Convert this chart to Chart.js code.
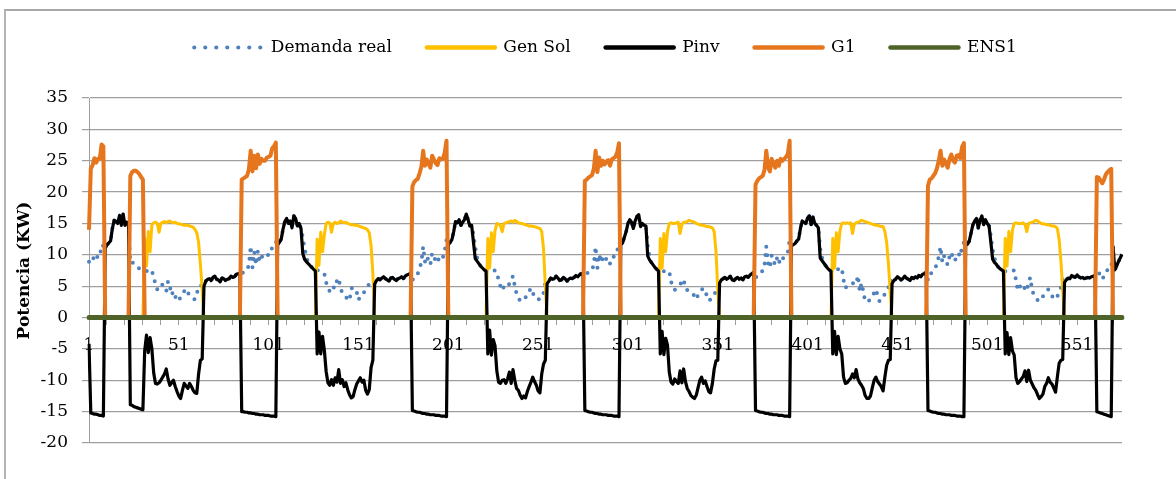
<!DOCTYPE html>
<html>
<head>
<meta charset="utf-8">
<script src="https://cdn.jsdelivr.net/npm/chart.js@4.4.0/dist/chart.umd.min.js"></script>
<style>
html,body{margin:0;padding:0;background:#fff;overflow:hidden}
#marco{position:absolute;left:4px;top:9px;width:1400px;height:700px;border-left:2px solid #b4b4b4;border-top:2px solid #a8a8a8}
#wrap{position:absolute;left:0;top:0;width:1176px;height:479px}
</style>
</head>
<body>
<div id="marco"></div>
<div id="wrap"><canvas id="grafico" width="1176" height="479"></canvas></div>
<script>
// --- datos (576 intervalos de 15 min) ---
const categorias = Array.from({length: 576}, (_, k) => String(k + 1));

const demanda = [
  8.9,8.6,9.1,9.9,9.4,9.8,9.7,11.6,11.4,
  11.0,11.6,11.9,12.2,14.2,15.5,15.3,15.0,16.3,14.7,16.5,14.7,15.2,14.8,
  8.8,8.9,8.5,8.3,8.0,7.8,7.6,7.5,
  7.5,7.4,7.5,7.6,7.6,6.2,5.5,4.5,4.9,5.4,5.2,4.6,4.2,5.8,5.0,3.6,4.2,3.4,2.6,2.8,3.2,3.7,4.2,4.6,4.0,3.5,3.2,3.0,2.9,3.9,4.6,5.2,5.0,
  // dia 1
  5.0,5.8,6.1,6.2,5.9,6.4,6.6,6.1,6.0,5.7,6.3,6.2,5.9,6.1,6.2,6.6,6.4,6.5,6.9,7.0,7.1,
  7.0,7.2,7.3,7.5,8.4,11.4,8.0,10.5,8.4,10.6,9.0,9.8,9.5,9.4,9.9,10.0,10.1,11.3,11.6,12.1,
  11.6,12.0,12.5,14.1,15.3,15.8,15.0,15.4,14.3,16.2,15.8,14.6,15.0,14.2,12.8,11.0,9.8,8.6,8.3,8.0,7.7,7.4,
  7.6,7.4,7.3,7.2,7.0,5.6,4.6,4.2,5.0,4.8,4.7,5.9,6.3,4.6,4.0,3.8,3.3,2.9,2.7,4.6,4.8,4.3,4.1,2.8,3.4,3.6,4.0,4.4,5.0,5.3,5.6,5.8,
  // dia 2
  5.3,5.9,6.2,6.0,6.3,6.5,6.2,6.0,5.8,6.3,6.4,6.1,5.9,6.2,6.3,6.5,6.2,6.6,6.8,6.9,7.1,
  5.9,6.6,6.8,7.0,7.8,8.8,11.3,8.9,9.8,9.1,8.4,10.3,9.7,9.0,8.7,9.8,9.5,9.6,10.6,12.4,
  11.6,12.0,12.4,13.7,15.3,15.1,15.6,14.7,15.2,15.6,16.5,15.6,14.6,14.7,13.2,11.2,9.6,8.6,8.2,7.9,7.6,7.4,
  7.5,7.4,7.4,7.5,7.5,7.3,5.9,5.0,4.3,5.0,5.5,5.4,5.3,6.0,6.6,5.0,3.8,3.2,2.6,2.9,3.0,3.2,3.8,4.2,4.7,4.0,3.2,3.0,2.9,2.9,3.5,3.9,5.5,
  // dia 3
  5.4,5.8,6.3,6.1,6.2,6.6,6.3,5.9,6.0,6.4,6.2,5.8,6.1,6.3,6.2,6.4,6.7,6.5,6.8,7.0,7.1,
  6.8,7.0,7.2,7.4,7.5,8.5,11.3,7.9,10.1,8.8,9.5,8.9,9.4,9.5,8.6,9.6,9.7,9.9,10.6,12.0,
  11.6,11.9,12.8,13.7,15.0,15.6,15.2,14.2,15.4,16.1,16.4,14.5,15.0,14.7,14.6,11.4,9.8,8.8,8.4,8.0,7.7,7.4,
  7.5,7.4,7.4,7.4,7.4,7.4,5.7,5.0,4.4,4.6,5.0,5.3,5.6,6.1,4.6,4.4,4.2,4.0,3.9,3.4,2.9,3.6,4.2,4.4,4.7,4.1,3.5,2.7,2.9,3.2,3.7,4.2,5.0,
  // dia 4
  5.5,6.0,6.2,6.4,6.1,6.3,6.6,6.0,5.9,6.2,6.4,6.1,6.3,6.0,6.5,6.6,6.4,6.8,7.0,7.2,
  6.2,6.8,7.1,7.3,7.4,8.3,11.3,8.7,7.9,9.9,9.0,8.4,9.5,8.6,9.7,9.4,9.6,9.9,10.4,12.4,
  11.4,11.6,11.8,12.2,12.5,14.2,15.4,15.2,15.0,15.9,16.2,14.8,16.0,15.0,14.7,14.3,11.0,9.6,8.7,8.3,7.9,7.6,7.4,
  7.1,7.3,7.5,7.7,7.9,7.9,6.0,4.7,5.0,5.3,5.4,5.5,5.4,5.3,6.7,4.2,5.5,4.2,2.6,2.7,2.6,3.0,3.5,3.9,4.5,3.5,2.6,3.0,3.5,3.7,4.2,4.8,6.0,
  // dia 5
  5.4,5.9,6.1,6.5,6.3,6.0,6.2,6.6,6.3,6.1,5.9,6.4,6.2,6.5,6.3,6.7,6.5,6.9,7.0,7.2,
  6.0,7.0,7.1,7.5,7.8,8.6,9.7,11.3,8.8,9.8,9.0,8.4,9.7,10.4,9.4,9.0,10.1,10.2,9.7,11.4,12.0,
  11.6,11.7,12.2,13.5,14.8,15.4,15.8,14.3,15.5,16.2,14.8,15.6,15.0,14.6,13.0,10.8,9.5,8.5,8.1,7.8,7.6,7.4,
  7.4,7.4,7.5,7.5,7.5,7.5,5.9,4.3,4.8,5.4,5.0,4.6,4.2,5.7,6.4,4.2,3.7,3.2,2.8,2.6,2.9,3.4,3.8,4.2,4.5,3.9,3.4,3.2,2.9,3.4,3.9,4.8,6.1,
  // dia 6
  5.6,6.0,6.3,6.2,6.7,6.5,6.4,6.8,6.5,6.3,6.4,6.2,6.3,6.4,6.3,6.5,6.6,6.7,
  7.4,7.2,6.7,6.1,6.6,7.3,7.6,7.8,7.9,
  11.3,7.6,8.2,8.9,9.5,10.1
];

const genSol = [
  0,0,0,0,0,0,0,0, 0,0,0,0,0,0,0,0, 0,0,0,0,0,0,0,0, 0,0,0,0,0,0,0,
  12.6,8.2,13.7,10.5,14.8,15.1,15.2,15.0,13.6,15.0,15.2,15.3,15.1,15.3,15.4,15.2,15.1,15.2,15.0,14.9,14.9,14.8,14.7,14.7,14.7,14.6,14.5,14.4,14.0,13.5,12.0,8.5,4.5,
  0,0,0,0,0,0,0,0, 0,0,0,0,0,0,0,0, 0,0,0,0,0,0,0,0, 0,0,0,0,0,0,0,0, 0,0,0,0,0,0,0,0, 0,0,0,0,0,0,0,0, 0,0,0,0,0,0,0,0, 0,0,0,0,0,0,0,
  12.5,8.3,13.6,10.5,13.2,15.0,15.2,15.1,13.6,15.0,15.2,15.0,15.1,15.4,15.2,15.1,15.2,15.0,14.9,14.8,14.8,14.7,14.7,14.6,14.5,14.4,14.3,14.2,14.0,13.5,11.5,7.0,
  0,0,0,0,0,0,0,0, 0,0,0,0,0,0,0,0, 0,0,0,0,0,0,0,0, 0,0,0,0,0,0,0,0, 0,0,0,0,0,0,0,0, 0,0,0,0,0,0,0,0, 0,0,0,0,0,0,0,0, 0,0,0,0,0,0,0,
  12.6,7.9,13.5,10.5,13.8,15.0,14.9,14.7,13.7,15.0,15.1,15.2,15.3,15.4,15.2,15.5,15.3,15.1,15.0,15.0,14.9,14.8,14.7,14.6,14.6,14.5,14.5,14.4,14.3,14.2,13.7,11.0,5.0,
  0,0,0,0,0,0,0,0, 0,0,0,0,0,0,0,0, 0,0,0,0,0,0,0,0, 0,0,0,0,0,0,0,0, 0,0,0,0,0,0,0,0, 0,0,0,0,0,0,0,0, 0,0,0,0,0,0,0,0, 0,0,0,0,0,0,0,
  12.6,7.9,13.4,10.5,13.7,15.0,15.1,15.0,15.0,15.1,15.2,13.4,14.8,15.2,15.2,15.3,15.5,15.4,15.3,15.2,15.0,14.9,14.8,14.7,14.7,14.6,14.5,14.5,14.4,14.3,13.7,10.5,4.5,
  0,0,0,0,0,0,0,0, 0,0,0,0,0,0,0,0, 0,0,0,0,0,0,0,0, 0,0,0,0,0,0,0,0, 0,0,0,0,0,0,0,0, 0,0,0,0,0,0,0,0, 0,0,0,0,0,0,0,0, 0,0,0,0,0,0,0,
  12.6,7.9,13.5,10.5,13.8,15.0,15.1,15.0,15.1,15.0,15.1,13.4,14.9,15.1,15.2,15.3,15.5,15.4,15.3,15.2,15.1,15.0,14.9,14.8,14.7,14.7,14.6,14.5,14.5,13.7,12.0,8.5,4.0,
  0,0,0,0,0,0,0,0, 0,0,0,0,0,0,0,0, 0,0,0,0,0,0,0,0, 0,0,0,0,0,0,0,0, 0,0,0,0,0,0,0,0, 0,0,0,0,0,0,0,0, 0,0,0,0,0,0,0,0, 0,0,0,0,0,0,0,
  12.6,8.2,13.7,10.5,13.9,15.0,15.1,15.0,15.0,15.0,15.1,14.8,13.7,15.0,15.1,15.2,15.3,15.5,15.4,15.2,15.0,14.9,14.9,14.8,14.8,14.7,14.6,14.6,14.5,14.2,12.5,9.0,4.5,
  0,0,0,0,0,0,0,0, 0,0,0,0,0,0,0,0, 0,0,0,0,0,0,0,0, 0,0,0,0,0,0,0,0, 0
];

const pinv = [
  -4.2,-15.2,-15.3,-15.4,-15.4,-15.5,-15.6,-15.6,-15.7,
  11.0,11.6,11.9,12.2,14.2,15.5,15.3,15.0,16.3,14.7,16.5,14.7,15.2,14.8,
  -13.9,-14.0,-14.2,-14.3,-14.4,-14.5,-14.6,-14.7,
  -5.3,-2.8,-5.6,-3.2,-5.0,-8.8,-10.5,-10.6,-10.4,-10.0,-9.5,-9.0,-8.2,-9.8,-10.8,-10.4,-10.0,-11.0,-11.8,-12.5,-12.9,-11.6,-10.5,-10.9,-11.3,-10.5,-11.0,-11.6,-12.0,-12.1,-9.0,-6.8,-6.6,
  // dia 1
  5.0,5.8,6.1,6.2,5.9,6.4,6.6,6.1,6.0,5.7,6.3,6.2,5.9,6.1,6.2,6.6,6.4,6.5,6.9,7.0,7.1,
  -15.0,-15.0,-15.1,-15.1,-15.2,-15.2,-15.3,-15.3,-15.4,-15.4,-15.5,-15.5,-15.5,-15.6,-15.6,-15.6,-15.7,-15.7,-15.7,-15.8,
  11.6,12.0,12.5,14.1,15.3,15.8,15.0,15.4,14.3,16.2,15.8,14.6,15.0,14.2,10.2,9.3,8.9,8.6,8.3,8.0,7.7,7.4,
  -5.8,-2.3,-5.8,-3.0,-5.2,-8.6,-10.4,-10.8,-9.9,-10.8,-9.6,-10.3,-8.3,-10.5,-9.9,-11.0,-10.4,-11.5,-12.3,-12.8,-12.6,-11.5,-10.6,-10.1,-9.6,-10.3,-10.0,-11.6,-12.2,-11.5,-8.0,-6.8,
  // dia 2
  5.3,5.9,6.2,6.0,6.3,6.5,6.2,6.0,5.8,6.3,6.4,6.1,5.9,6.2,6.3,6.5,6.2,6.6,6.8,6.9,7.1,
  -14.8,-14.9,-15.0,-15.1,-15.1,-15.2,-15.3,-15.3,-15.4,-15.4,-15.5,-15.5,-15.5,-15.6,-15.6,-15.6,-15.7,-15.7,-15.7,-15.8,
  11.6,12.0,12.4,13.7,15.3,15.1,15.6,14.7,15.2,15.6,16.5,15.6,14.6,14.7,12.0,9.4,9.0,8.6,8.2,7.9,7.6,7.4,
  -5.8,-2.0,-6.0,-3.5,-4.5,-8.5,-10.3,-10.5,-10.0,-9.9,-10.5,-9.8,-8.7,-10.5,-8.3,-10.0,-11.3,-11.6,-12.4,-12.9,-12.5,-12.8,-11.8,-11.0,-10.3,-9.5,-10.2,-10.8,-11.7,-12.0,-9.0,-7.4,-6.8,
  // dia 3
  5.4,5.8,6.3,6.1,6.2,6.6,6.3,5.9,6.0,6.4,6.2,5.8,6.1,6.3,6.2,6.4,6.7,6.5,6.8,7.0,7.1,
  -14.8,-14.9,-15.0,-15.1,-15.1,-15.2,-15.3,-15.3,-15.4,-15.4,-15.5,-15.5,-15.5,-15.6,-15.6,-15.6,-15.7,-15.7,-15.7,-15.8,
  11.6,11.9,12.8,13.7,15.0,15.6,15.2,14.2,15.4,16.1,16.4,14.5,15.0,14.7,14.6,9.8,9.2,8.8,8.4,8.0,7.7,7.4,
  -5.8,-2.2,-5.9,-3.3,-4.4,-8.7,-10.3,-10.6,-9.8,-10.2,-10.5,-8.5,-10.4,-8.2,-10.2,-11.3,-11.8,-12.4,-12.7,-12.9,-12.4,-11.2,-10.0,-9.5,-10.5,-10.1,-11.0,-11.8,-12.0,-10.5,-8.2,-6.9,-6.8,
  // dia 4
  5.5,6.0,6.2,6.4,6.1,6.3,6.6,6.0,5.9,6.2,6.4,6.1,6.3,6.0,6.5,6.6,6.4,6.8,7.0,7.2,
  -14.8,-14.9,-15.0,-15.1,-15.1,-15.2,-15.3,-15.3,-15.4,-15.4,-15.5,-15.5,-15.5,-15.6,-15.6,-15.6,-15.7,-15.7,-15.7,-15.8,
  11.4,11.6,11.8,12.2,12.5,14.2,15.4,15.2,15.0,15.9,16.2,14.8,16.0,15.0,14.7,14.3,9.5,9.1,8.7,8.3,7.9,7.6,7.4,
  -5.8,-2.2,-5.9,-3.0,-5.0,-5.8,-9.5,-10.5,-10.4,-10.0,-9.7,-9.0,-9.6,-8.3,-9.8,-10.4,-10.8,-11.3,-12.4,-12.9,-12.9,-12.5,-11.2,-10.0,-9.5,-10.2,-10.6,-11.0,-11.7,-9.5,-7.6,-6.8,-6.7,
  // dia 5
  5.4,5.9,6.1,6.5,6.3,6.0,6.2,6.6,6.3,6.1,5.9,6.4,6.2,6.5,6.3,6.7,6.5,6.9,7.0,7.2,
  -14.8,-14.9,-15.0,-15.1,-15.1,-15.2,-15.3,-15.3,-15.4,-15.4,-15.5,-15.5,-15.5,-15.6,-15.6,-15.6,-15.7,-15.7,-15.7,-15.8,-15.8,
  11.6,11.7,12.2,13.5,14.8,15.4,15.8,14.3,15.5,16.2,14.8,15.6,15.0,14.6,12.0,9.3,8.8,8.5,8.1,7.8,7.6,7.4,
  -5.8,-2.4,-5.9,-3.2,-5.3,-6.0,-9.6,-10.5,-10.2,-9.8,-9.4,-8.5,-10.2,-8.4,-10.0,-10.6,-11.2,-11.6,-12.3,-12.9,-12.6,-12.2,-11.0,-10.5,-9.6,-10.3,-10.6,-11.2,-11.9,-9.5,-7.3,-6.8,-6.7,
  // dia 6
  5.6,6.0,6.3,6.2,6.7,6.5,6.4,6.8,6.5,6.3,6.4,6.2,6.3,6.4,6.3,6.5,6.6,6.7,
  -15.0,-15.1,-15.2,-15.3,-15.4,-15.5,-15.6,-15.7,-15.8,
  11.3,7.6,8.2,8.9,9.5,10.1
];

const g1 = [
  14.0,23.7,24.3,25.4,24.7,25.3,25.3,27.6,27.3,
  0,0,0,0,0,0,0,0, 0,0,0,0,0,0,
  22.6,23.2,23.4,23.4,23.2,22.9,22.4,22.0,
  0,0,0,0,0,0,0,0, 0,0,0,0,0,0,0,0, 0,0,0,0,0,0,0,0, 0,0,0,0,0,0,0,0, 0,0,0,0,0,0,0,0, 0,0,0,0,0,0,0,0, 0,0,0,0,0,0,
  22.0,22.2,22.4,22.6,23.6,26.6,23.3,25.8,23.8,26.0,24.5,25.3,25.0,25.0,25.5,25.6,25.8,27.0,27.3,27.9,
  0,0,0,0,0,0,0,0, 0,0,0,0,0,0,0,0, 0,0,0,0,0,0,0,0, 0,0,0,0,0,0,0,0, 0,0,0,0,0,0,0,0, 0,0,0,0,0,0,0,0, 0,0,0,0,0,0,0,0, 0,0,0,0,0,0,0,0, 0,0,0,0,0,0,0,0, 0,0,0,
  20.9,21.6,21.9,22.1,23.0,24.0,26.6,24.2,25.2,24.5,23.9,25.8,25.2,24.6,24.3,25.4,25.2,25.3,26.3,28.2,
  0,0,0,0,0,0,0,0, 0,0,0,0,0,0,0,0, 0,0,0,0,0,0,0,0, 0,0,0,0,0,0,0,0, 0,0,0,0,0,0,0,0, 0,0,0,0,0,0,0,0, 0,0,0,0,0,0,0,0, 0,0,0,0,0,0,0,0, 0,0,0,0,0,0,0,0, 0,0,0,0,
  21.8,22.0,22.3,22.5,22.7,23.7,26.6,23.2,25.5,24.2,25.0,24.4,24.9,25.1,24.2,25.2,25.4,25.6,26.3,27.8,
  0,0,0,0,0,0,0,0, 0,0,0,0,0,0,0,0, 0,0,0,0,0,0,0,0, 0,0,0,0,0,0,0,0, 0,0,0,0,0,0,0,0, 0,0,0,0,0,0,0,0, 0,0,0,0,0,0,0,0, 0,0,0,0,0,0,0,0, 0,0,0,0,0,0,0,0, 0,0,0,
  21.2,21.8,22.2,22.4,22.6,23.5,26.6,24.0,23.3,25.3,24.5,23.9,25.0,24.2,25.3,25.0,25.3,25.6,26.1,28.2,
  0,0,0,0,0,0,0,0, 0,0,0,0,0,0,0,0, 0,0,0,0,0,0,0,0, 0,0,0,0,0,0,0,0, 0,0,0,0,0,0,0,0, 0,0,0,0,0,0,0,0, 0,0,0,0,0,0,0,0, 0,0,0,0,0,0,0,0, 0,0,0,0,0,0,0,0, 0,0,0,0,
  21.0,22.0,22.2,22.6,23.0,23.8,25.0,26.6,24.2,25.2,24.5,23.9,25.3,26.0,25.0,24.7,25.8,25.9,25.4,27.2,27.8,
  0,0,0,0,0,0,0,0, 0,0,0,0,0,0,0,0, 0,0,0,0,0,0,0,0, 0,0,0,0,0,0,0,0, 0,0,0,0,0,0,0,0, 0,0,0,0,0,0,0,0, 0,0,0,0,0,0,0,0, 0,0,0,0,0,0,0,0, 0,0,0,0,0,0,0,0, 0,
  22.4,22.3,21.9,21.4,22.0,22.8,23.2,23.5,23.7,
  0,0,0,0,0,0
];

const ens1 = [
  0,0,0,0,0,0,0,0, 0,0,0,0,0,0,0,0, 0,0,0,0,0,0,0,0, 0,0,0,0,0,0,0,0,
  0,0,0,0,0,0,0,0, 0,0,0,0,0,0,0,0, 0,0,0,0,0,0,0,0, 0,0,0,0,0,0,0,0,
  0,0,0,0,0,0,0,0, 0,0,0,0,0,0,0,0, 0,0,0,0,0,0,0,0, 0,0,0,0,0,0,0,0,
  0,0,0,0,0,0,0,0, 0,0,0,0,0,0,0,0, 0,0,0,0,0,0,0,0, 0,0,0,0,0,0,0,0,
  0,0,0,0,0,0,0,0, 0,0,0,0,0,0,0,0, 0,0,0,0,0,0,0,0, 0,0,0,0,0,0,0,0,
  0,0,0,0,0,0,0,0, 0,0,0,0,0,0,0,0, 0,0,0,0,0,0,0,0, 0,0,0,0,0,0,0,0,
  0,0,0,0,0,0,0,0, 0,0,0,0,0,0,0,0, 0,0,0,0,0,0,0,0, 0,0,0,0,0,0,0,0,
  0,0,0,0,0,0,0,0, 0,0,0,0,0,0,0,0, 0,0,0,0,0,0,0,0, 0,0,0,0,0,0,0,0,
  0,0,0,0,0,0,0,0, 0,0,0,0,0,0,0,0, 0,0,0,0,0,0,0,0, 0,0,0,0,0,0,0,0,
  0,0,0,0,0,0,0,0, 0,0,0,0,0,0,0,0, 0,0,0,0,0,0,0,0, 0,0,0,0,0,0,0,0,
  0,0,0,0,0,0,0,0, 0,0,0,0,0,0,0,0, 0,0,0,0,0,0,0,0, 0,0,0,0,0,0,0,0,
  0,0,0,0,0,0,0,0, 0,0,0,0,0,0,0,0, 0,0,0,0,0,0,0,0, 0,0,0,0,0,0,0,0,
  0,0,0,0,0,0,0,0, 0,0,0,0,0,0,0,0, 0,0,0,0,0,0,0,0, 0,0,0,0,0,0,0,0,
  0,0,0,0,0,0,0,0, 0,0,0,0,0,0,0,0, 0,0,0,0,0,0,0,0, 0,0,0,0,0,0,0,0,
  0,0,0,0,0,0,0,0, 0,0,0,0,0,0,0,0, 0,0,0,0,0,0,0,0, 0,0,0,0,0,0,0,0,
  0,0,0,0,0,0,0,0, 0,0,0,0,0,0,0,0, 0,0,0,0,0,0,0,0, 0,0,0,0,0,0,0,0,
  0,0,0,0,0,0,0,0, 0,0,0,0,0,0,0,0, 0,0,0,0,0,0,0,0, 0,0,0,0,0,0,0,0,
  0,0,0,0,0,0,0,0, 0,0,0,0,0,0,0,0, 0,0,0,0,0,0,0,0, 0,0,0,0,0,0,0,0
];

// control rapido de longitudes
[['demanda',demanda],['genSol',genSol],['pinv',pinv],['g1',g1],['ens1',ens1]].forEach(([n,a])=>{
  if(a.length!==categorias.length) throw new Error(n+' tiene '+a.length+' puntos');
});

const FUENTE = {family:'DejaVu Serif', size:17};
const GRIS = '#9e9e9e';

new Chart(document.getElementById('grafico'), {
  type:'line',
  data:{
    labels:categorias,
    datasets:[
      {label:'Demanda real', data:demanda, borderColor:'#4F81BD', borderWidth:4, borderDash:[0,8.5], borderCapStyle:'round', order:5, leyDash:[0,11], leyAncho:4.2},
      {label:'Gen Sol', data:genSol, borderColor:'#FFC000', borderWidth:3, order:4},
      {label:'Pinv', data:pinv, borderColor:'#000000', borderWidth:3.2, order:3},
      {label:'G1', data:g1, borderColor:'#E6761E', borderWidth:4, order:2},
      {label:'ENS1', data:ens1, borderColor:'#4F6228', borderWidth:5, borderCapStyle:'round', order:1}
    ]
  },
  options:{
    responsive:false, animation:false, devicePixelRatio:1,
    elements:{point:{radius:0, hoverRadius:0}, line:{tension:0, borderJoinStyle:'round', fill:false}},
    layout:{padding:{top:4, right:54, bottom:36, left:0}},
    plugins:{
      tooltip:{enabled:false},
      legend:{
        position:'top', fullSize:false, weight:2500,
        labels:{
          usePointStyle:true, pointStyleWidth:68, padding:35, color:'#000', font:FUENTE,
          generateLabels:chart=>chart.data.datasets.map((ds,i)=>({
            text:ds.label, datasetIndex:i, hidden:false,
            strokeStyle:ds.borderColor, fillStyle:ds.borderColor,
            lineWidth:ds.leyAncho||4.5, lineDash:ds.leyDash||[], lineCap:'round',
            pointStyle:'line', fontColor:'#000'
          }))
        }
      },
      // separador entre leyenda y area de trazado
      subtitle:{display:true, text:'', font:{size:10}, padding:{top:0, bottom:20}}
    },
    scales:{
      x:{
        type:'category', position:{y:0},
        afterBuildTicks:axis=>{ axis.ticks = axis.ticks.filter(t=>t.value%10===0); },
        ticks:{
          autoSkip:false, maxRotation:0, minRotation:0, padding:11, color:'#000', font:FUENTE,
          callback:function(value){ return value%50===0 ? this.getLabelForValue(value) : ''; }
        },
        grid:{drawOnChartArea:false, drawTicks:true, tickLength:7, color:GRIS, lineWidth:1},
        border:{display:true, color:GRIS}
      },
      y:{
        min:-20, max:35,
        ticks:{stepSize:5, padding:14, color:'#000', font:FUENTE},
        grid:{color:GRIS, lineWidth:1.2, drawTicks:true, tickLength:7},
        border:{display:true, color:GRIS},
        title:{display:true, text:'Potencia (KW)', color:'#000', font:{family:'DejaVu Serif', size:17, weight:'bold'}, padding:{top:14, bottom:0}},
        afterFit:s=>{ s.width = 89; }
      }
    }
  }
});
</script>
</body>
</html>
